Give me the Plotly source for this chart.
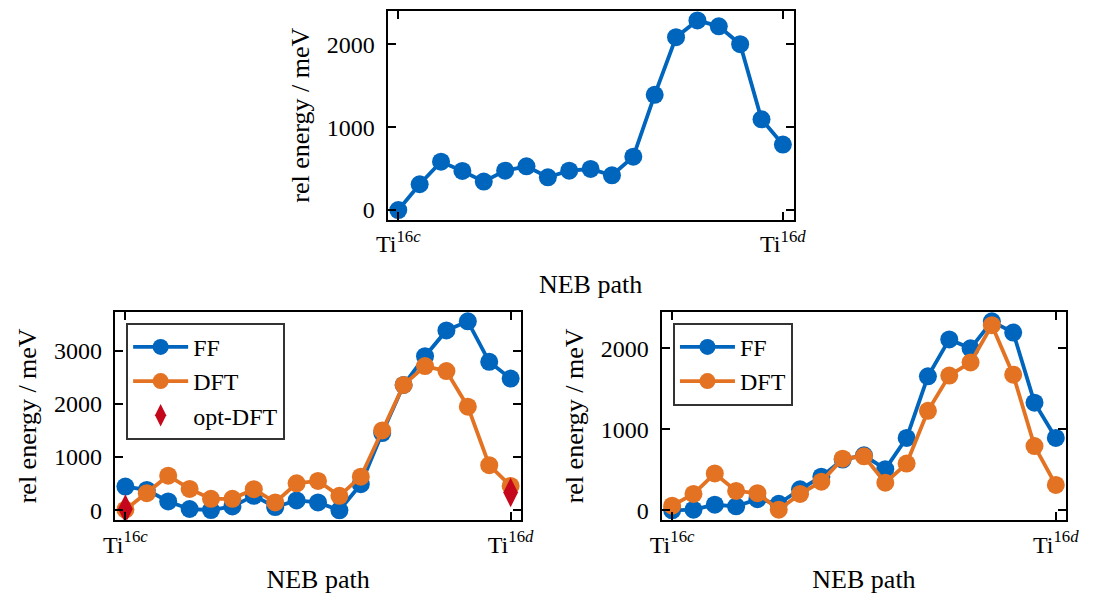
import plotly.graph_objects as go

# ---------------- data ----------------
path_idx = list(range(19))
x_tick_vals = [0, 18]
x_tick_text = ["Ti<sup>16<i>c</i></sup>", "Ti<sup>16<i>d</i></sup>"]

top_ff = [0, 311, 583, 471, 343, 475, 527, 395, 475, 495, 419, 643,
          1389, 2084, 2287, 2216, 2000, 1094, 790]

bl_ff = [446, 384, 167, 25, 5, 74, 273, 62, 186, 149, 0, 490,
         1451, 2356, 2895, 3379, 3550, 2790, 2474]
bl_dft = [12, 322, 651, 403, 217, 217, 397, 149, 508, 552, 273, 632,
          1500, 2356, 2709, 2616, 1947, 849, 459]
bl_opt_x = [0, 18]
bl_opt = [25, 335]

br_ff = [0, 8, 69, 49, 138, 81, 260, 415, 626, 679, 508, 894,
         1654, 2110, 2000, 2333, 2195, 1329, 894]
br_dft = [57, 203, 455, 240, 211, 8, 203, 354, 638, 667, 341, 577,
          1228, 1663, 1825, 2285, 1675, 793, 313]

# ---------------- style ----------------
BLUE = "#0065BD"
ORANGE = "#E37222"
RED = "#C4071B"
FONT = "Liberation Serif"
W, H = 1101, 594
TICK_SIZE = 24
TITLE_SIZE = 26
LEG_SIZE = 24

fig = go.Figure()

def line_trace(x, y, color, name, xa, ya, legend, show):
    return go.Scatter(x=x, y=y, mode="lines+markers", name=name,
                      line=dict(color=color, width=3.8),
                      marker=dict(color=color, size=18),
                      xaxis=xa, yaxis=ya, legend=legend, showlegend=show,
                      legendgroup=legend + name)

fig.add_trace(line_trace(path_idx, top_ff, BLUE, "FF", "x", "y", "legend", False))
fig.add_trace(line_trace(path_idx, bl_ff, BLUE, "FF", "x2", "y2", "legend", True))
fig.add_trace(line_trace(path_idx, bl_dft, ORANGE, "DFT", "x2", "y2", "legend", True))
fig.add_trace(go.Scatter(x=bl_opt_x, y=bl_opt, mode="markers", name="opt-DFT",
                         marker=dict(color=RED, size=21, symbol="diamond-tall"),
                         xaxis="x2", yaxis="y2", legend="legend", showlegend=True,
                         legendgroup="legendopt"))
fig.add_trace(line_trace(path_idx, br_ff, BLUE, "FF", "x3", "y3", "legend2", True))
fig.add_trace(line_trace(path_idx, br_dft, ORANGE, "DFT", "x3", "y3", "legend2", True))


def yrange(*series):
    vals = [v for s in series for v in s]
    lo, hi = min(vals), max(vals)
    m = 0.05 * (hi - lo)
    return [lo - m, hi + m]


def px_dom(a, b, total):
    return [a / total, b / total]


def ydom(top, bottom):
    return [1 - bottom / H, 1 - top / H]


axis_common = dict(
    showline=True, linecolor="black", linewidth=2, mirror="allticks",
    ticks="inside", ticklen=8, tickwidth=1.5, tickcolor="black",
    showgrid=False, zeroline=False,
    tickfont=dict(family=FONT, size=TICK_SIZE, color="black"),
)

xcommon = dict(axis_common, range=[-0.5, 18.5], tickmode="array",
               tickvals=x_tick_vals, ticktext=x_tick_text, ticklabelstandoff=2,
               title=dict(text="NEB path", font=dict(family=FONT, size=TITLE_SIZE, color="black"),
                          standoff=18))
ycommon = dict(axis_common, dtick=1000, tick0=0, ticklabelstandoff=6,
               title=dict(text="rel energy / meV", font=dict(family=FONT, size=TITLE_SIZE, color="black"),
                          standoff=10))

legend_common = dict(xanchor="left", yanchor="top",
                     bgcolor="white", bordercolor="#333333", borderwidth=2,
                     font=dict(family=FONT, size=LEG_SIZE, color="black"),
                     itemwidth=55, tracegroupgap=0, traceorder="grouped")

fig.update_layout(
    width=W, height=H,
    margin=dict(l=0, r=0, t=0, b=0),
    paper_bgcolor="white", plot_bgcolor="white",
    font=dict(family=FONT, size=TICK_SIZE, color="black"),
    xaxis=dict(xcommon, domain=px_dom(385, 800, W), anchor="y"),
    yaxis=dict(ycommon, domain=ydom(11, 221), anchor="x", range=yrange(top_ff)),
    xaxis2=dict(xcommon, domain=px_dom(106, 521.7, W), anchor="y2"),
    yaxis2=dict(ycommon, domain=ydom(314, 523.3), anchor="x2",
                range=yrange(bl_ff, bl_dft, bl_opt)),
    xaxis3=dict(xcommon, domain=px_dom(665, 1079, W), anchor="y3"),
    yaxis3=dict(ycommon, domain=ydom(314, 523.3), anchor="x3",
                range=yrange(br_ff, br_dft)),
    legend=dict(legend_common, x=117.7 / W, y=1 - 325 / H),
    legend2=dict(legend_common, x=676.7 / W, y=1 - 325 / H),
)

fig.write_html("out.html")
